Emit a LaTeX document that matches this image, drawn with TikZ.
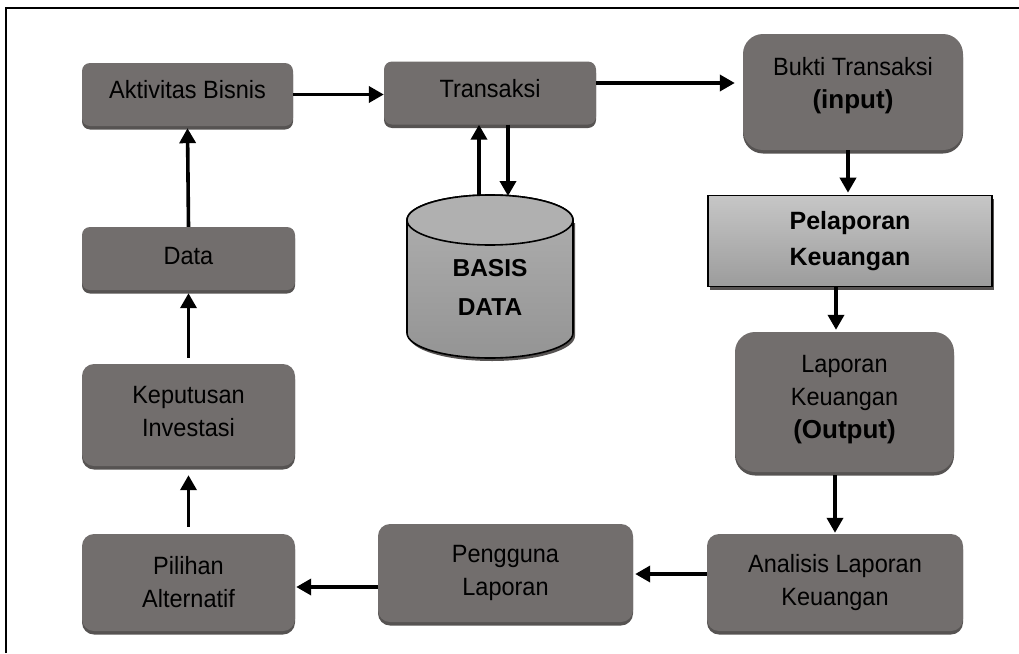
\documentclass[tikz,border=0pt]{standalone}
\usepackage{fontspec}
\setmainfont{Liberation Sans}
\newfontfamily\boxfont[FakeStretch=0.94]{Liberation Sans}
\usetikzlibrary{arrows.meta,shadows}

\definecolor{boxgray}{RGB}{114,110,109}
\definecolor{boxshade}{RGB}{86,83,82}
\definecolor{dbtop}{RGB}{176,176,176}
\definecolor{dbbot}{RGB}{148,148,148}
\definecolor{reptop}{RGB}{198,198,198}
\definecolor{repbot}{RGB}{156,156,156}

\tikzset{
  proc/.style={draw=none, fill=boxgray, align=center, inner sep=0pt,
    font=\boxfont\fontsize{25}{33}\selectfont,
    drop shadow={shadow xshift=0pt, shadow yshift=-3.5pt, fill=boxshade, opacity=1}},
  lift/.style={execute at end node={\rule[-#1]{0pt}{0pt}}},
  arr/.style={line width=3.6pt, -{Triangle[length=15pt,width=16pt]}},
  bld/.style={font=\fontsize{25}{36}\selectfont\bfseries},
}
\newcommand{\bigbold}[1]{{\normalfont\fontsize{26}{33}\selectfont\bfseries #1}}

\begin{document}
\begin{tikzpicture}[x=1pt,y=-1pt]
\useasboundingbox (0,0) rectangle (1019,653);

% outer frame
\draw[line width=2.4pt] (6,653) -- (6,8) -- (1019,8);

% process boxes
\node[proc, rounded corners=8pt, minimum width=211pt, minimum height=63pt, lift=10pt]
  (akt) at (187.5,94.5) {Aktivitas Bisnis};
\node[proc, rounded corners=8pt, minimum width=212pt, minimum height=63pt, lift=10pt]
  (tr) at (490,93) {Transaksi};
\node[proc, rounded corners=20pt, minimum width=220pt, minimum height=116pt, lift=18pt]
  (bukti) at (853,92) {Bukti Transaksi\\\bigbold{(input)}};
\node[proc, rounded corners=8pt, minimum width=213pt, minimum height=63pt, lift=6pt]
  (data) at (188.5,258.5) {Data};
\node[proc, rounded corners=12pt, minimum width=213pt, minimum height=102pt, lift=8pt]
  (kep) at (188.5,415) {Keputusan\\Investasi};
\node[proc, rounded corners=12pt, minimum width=213pt, minimum height=97pt]
  (pil) at (188.5,582.5) {Pilihan\\Alternatif};
\node[proc, rounded corners=12pt, minimum width=255pt, minimum height=98pt]
  (peng) at (505.5,573) {Pengguna\\Laporan};
\node[proc, rounded corners=20pt, minimum width=219pt, minimum height=140pt, lift=10pt]
  (lk) at (844.5,402) {Laporan\\Keuangan\\\bigbold{(Output)}};
\node[proc, rounded corners=12pt, minimum width=256pt, minimum height=97pt]
  (ana) at (835,582.5) {Analisis Laporan\\Keuangan};

% reporting step (square box with gradient)
\node[draw=black, line width=1.6pt, top color=reptop, bottom color=repbot,
  minimum width=284pt, minimum height=91pt, align=center, bld,
  drop shadow={shadow xshift=2pt, shadow yshift=-3pt, fill=boxshade, opacity=1}]
  (pel) at (850,241) {Pelaporan\\Keuangan};

% database cylinder
\fill[boxshade] (409,223) -- (409,336) arc[start angle=180, end angle=0, x radius=83, y radius=25]
  -- (575,223) -- cycle;
\path[draw=black, line width=1.6pt, top color=dbtop, bottom color=dbbot]
  (407,220) -- (407,333) arc[start angle=180, end angle=0, x radius=83, y radius=25]
  -- (573,220) arc[start angle=0, end angle=-180, x radius=83, y radius=25] -- cycle;
\path[draw=black, line width=1.6pt, fill=dbtop]
  (490,220) ellipse[x radius=83, y radius=25];
\node[align=center, font=\fontsize{24.5}{39}\selectfont\bfseries]
  (db) at (490,287) {BASIS\\DATA};
\coordinate (dbin) at (479,196);
\coordinate (dbout) at (508,196);

% connectors
\draw[arr] (akt.east) -- (tr.west |- akt.east);
\draw[arr] (tr.east |- 0,83) -- ([xshift=-8pt]bukti.west |- 0,83);
\draw[arr] (dbin) -- (tr.south -| dbin);
\draw[arr] (tr.south -| dbout) -- (dbout);
\draw[arr] (bukti.south -| 848,0) -- ([yshift=2pt]pel.north -| 848,0);
\draw[arr] (pel.south -| 836,0) -- ([yshift=2pt]lk.north -| 836,0);
\draw[arr] ([yshift=-3pt]lk.south -| 835,0) -- ([yshift=1pt]ana.north -| 835,0);
\draw[arr] (ana.west |- 0,574) -- ([xshift=2pt]peng.east |- 0,574);
\draw[arr] (peng.west |- 0,587) -- ([xshift=1pt]pil.east |- 0,587);
\draw[arr] ([yshift=7pt]pil.north) -- ([yshift=-9pt]kep.south);
\draw[arr] ([yshift=6pt]kep.north) -- ([yshift=-3pt]data.south);
\draw[arr] (data.north) -- ([yshift=-2pt]akt.south);
\end{tikzpicture}
\end{document}
